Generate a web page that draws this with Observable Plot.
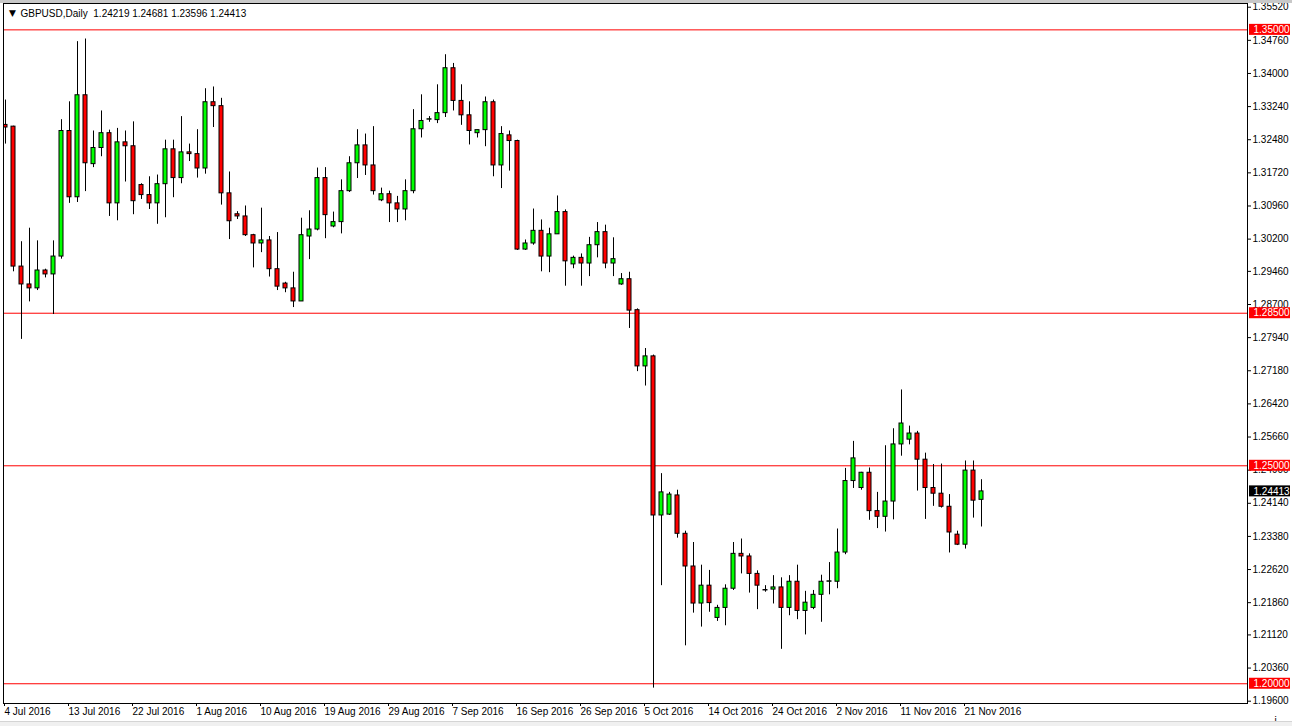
<!DOCTYPE html>
<html><head><meta charset="utf-8">
<script src="https://cdn.jsdelivr.net/npm/d3@7"></script>
<script src="https://cdn.jsdelivr.net/npm/@observablehq/plot@0.6"></script>
<style>
html,body{margin:0;padding:0;background:#fff;}
#wrap{position:relative;width:1292px;height:726px;overflow:hidden;}
#topband{position:absolute;left:0;top:0;width:1292px;height:3px;background:#c8c8c8;}
#botband{position:absolute;left:0;top:721px;width:1292px;height:5px;background:#f0f0f0;border-top:1px solid #d4d4d4;}
</style></head><body><div id="wrap"><div id="topband"></div><div id="botband"></div></div>
<script>
const symbol = "GBPUSD,Daily";

const open = [
1.3282, 1.3278, 1.2957, 1.2916, 1.2907, 1.2948, 1.2939, 1.2980, 1.3268, 1.3116,
1.3350, 1.3192, 1.3229, 1.3263, 1.3102, 1.3242, 1.3233, 1.3144, 1.3121, 1.3102,
1.3146, 1.3226, 1.3160, 1.3219, 1.3215, 1.3182, 1.3334, 1.3325, 1.3125, 1.3077,
1.3072, 1.3029, 1.3010, 1.3017, 1.2951, 1.2918, 1.2907, 1.2877, 1.3026, 1.3042,
1.3160, 1.3049, 1.3059, 1.3130, 1.3194, 1.3235, 1.3189, 1.3109, 1.3123, 1.3102,
1.3088, 1.3130, 1.3272, 1.3294, 1.3293, 1.3309, 1.3412, 1.3337, 1.3304, 1.3263,
1.3270, 1.3334, 1.3189, 1.3258, 1.3245, 1.2996, 1.3010, 1.3039, 1.2980, 1.3031,
1.3082, 1.2962, 1.2977, 1.2964, 1.3006, 1.3036, 1.2964, 1.2916, 1.2928, 1.2857,
1.2728, 1.2751, 1.2386, 1.2388, 1.2432, 1.2344, 1.2269, 1.2184, 1.2225, 1.2151,
1.2174, 1.2218, 1.2298, 1.2292, 1.2252, 1.2215, 1.2216, 1.2221, 1.2174, 1.2234,
1.2167, 1.2174, 1.2204, 1.2234, 1.2234, 1.2301, 1.2465, 1.2449, 1.2484, 1.2396,
1.2383, 1.2418, 1.2549, 1.2560, 1.2574, 1.2514, 1.2449, 1.2436, 1.2406, 1.2342,
1.2319, 1.2489, 1.24219];

const high = [
1.3339, 1.3279, 1.3014, 1.3045, 1.3016, 1.2951, 1.3016, 1.3294, 1.3335, 1.3473,
1.3479, 1.3268, 1.3314, 1.3270, 1.3274, 1.3268, 1.3289, 1.3147, 1.3163, 1.3167,
1.3247, 1.3247, 1.3301, 1.3238, 1.3271, 1.3365, 1.3369, 1.3343, 1.3174, 1.3083,
1.3096, 1.3031, 1.3091, 1.3026, 1.3035, 1.2921, 1.2944, 1.3068, 1.3085, 1.3183,
1.3184, 1.3082, 1.3156, 1.3209, 1.3271, 1.3261, 1.3278, 1.3137, 1.3130, 1.3118,
1.3156, 1.3317, 1.3351, 1.3301, 1.3374, 1.3443, 1.3423, 1.3374, 1.3335, 1.3270,
1.3346, 1.3339, 1.3278, 1.3268, 1.3247, 1.3018, 1.3089, 1.3064, 1.3045, 1.3119,
1.3087, 1.2981, 1.2986, 1.3024, 1.3058, 1.3052, 1.3023, 1.2941, 1.2944, 1.2860,
1.2769, 1.2754, 1.2482, 1.2439, 1.2444, 1.2350, 1.2324, 1.2272, 1.2260, 1.2180,
1.2227, 1.2324, 1.2332, 1.2298, 1.2259, 1.2225, 1.2248, 1.2243, 1.2248, 1.2272,
1.2212, 1.2214, 1.2249, 1.2278, 1.2355, 1.2494, 1.2556, 1.2485, 1.2495, 1.2439,
1.2546, 1.2585, 1.2674, 1.2591, 1.2579, 1.2529, 1.2503, 1.2504, 1.2434, 1.2350,
1.2511, 1.2511, 1.24681];

const low = [
1.3238, 1.2945, 1.2790, 1.2876, 1.2902, 1.2931, 1.2847, 1.2974, 1.3102, 1.3104,
1.3129, 1.3184, 1.3209, 1.3072, 1.3062, 1.3151, 1.3076, 1.3111, 1.3088, 1.3054,
1.3069, 1.3115, 1.3147, 1.3198, 1.3160, 1.3169, 1.3276, 1.3098, 1.3019, 1.3065,
1.3026, 1.2954, 1.2989, 1.2933, 1.2902, 1.2897, 1.2863, 1.2877, 1.2973, 1.3039,
1.3021, 1.3046, 1.3032, 1.3127, 1.3159, 1.3166, 1.3121, 1.3106, 1.3058, 1.3058,
1.3062, 1.3124, 1.3252, 1.3288, 1.3285, 1.3299, 1.3314, 1.3281, 1.3236, 1.3252,
1.3232, 1.3163, 1.3136, 1.3176, 1.2994, 1.2994, 1.3006, 1.2945, 1.2943, 1.3031,
1.2912, 1.2952, 1.2912, 1.2934, 1.2977, 1.2952, 1.2934, 1.2914, 1.2815, 1.2716,
1.2683, 1.1990, 1.2225, 1.2386, 1.2334, 1.2087, 1.2162, 1.2130, 1.2164, 1.2143,
1.2133, 1.2214, 1.2252, 1.2208, 1.2170, 1.2210, 1.2183, 1.2079, 1.2156, 1.2147,
1.2112, 1.2170, 1.2141, 1.2204, 1.2218, 1.2296, 1.2448, 1.2444, 1.2375, 1.2356,
1.2348, 1.2376, 1.2522, 1.2548, 1.2442, 1.2377, 1.2407, 1.2403, 1.2300, 1.2317,
1.2309, 1.2380, 1.23596];

const close = [
1.3276, 1.2957, 1.2916, 1.2907, 1.2948, 1.2939, 1.2980, 1.3268, 1.3116, 1.3350,
1.3194, 1.3229, 1.3263, 1.3102, 1.3242, 1.3233, 1.3107, 1.3121, 1.3102, 1.3146,
1.3226, 1.3160, 1.3219, 1.3215, 1.3182, 1.3334, 1.3325, 1.3125, 1.3061, 1.3072,
1.3029, 1.3010, 1.3017, 1.2951, 1.2911, 1.2907, 1.2877, 1.3029, 1.3042, 1.3160,
1.3075, 1.3059, 1.3130, 1.3194, 1.3235, 1.3189, 1.3130, 1.3123, 1.3102, 1.3088,
1.3130, 1.3272, 1.3291, 1.3295, 1.3309, 1.3412, 1.3337, 1.3304, 1.3268, 1.3270,
1.3334, 1.3189, 1.3261, 1.3245, 1.2996, 1.3010, 1.3039, 1.2980, 1.3031, 1.3082,
1.2969, 1.2977, 1.2964, 1.3006, 1.3036, 1.2964, 1.2974, 1.2928, 1.2856, 1.2728,
1.2751, 1.2386, 1.2439, 1.2434, 1.2344, 1.2269, 1.2184, 1.2225, 1.2185, 1.2174,
1.2218, 1.2298, 1.2292, 1.2252, 1.2225, 1.2214, 1.2221, 1.2174, 1.2234, 1.2167,
1.2186, 1.2204, 1.2234, 1.2235, 1.2301, 1.2465, 1.2517, 1.2484, 1.2396, 1.2383,
1.2418, 1.2549, 1.2597, 1.2574, 1.2514, 1.2449, 1.2436, 1.2406, 1.2347, 1.2319,
1.2489, 1.2420, 1.24413];

const dateLabels = ["4 Jul 2016","13 Jul 2016","22 Jul 2016","1 Aug 2016","10 Aug 2016","19 Aug 2016",
  "29 Aug 2016","7 Sep 2016","16 Sep 2016","26 Sep 2016","5 Oct 2016","14 Oct 2016","24 Oct 2016",
  "2 Nov 2016","11 Nov 2016","21 Nov 2016"];
const dateTickIndex = [0,8,16,24,32,40,48,56,64,72,80,88,96,104,112,120];

const priceTicks = [1.3552,1.3476,1.3400,1.3324,1.3248,1.3172,1.3096,1.3020,1.2946,1.2870,1.2794,
  1.2718,1.2642,1.2566,1.2490,1.2414,1.2338,1.2262,1.2186,1.2112,1.2036,1.1960];

const levels = [1.35, 1.285, 1.25, 1.20];

const bars = open.map((o, i) => ({i, open: o, high: high[i], low: low[i], close: close[i]}));
const last = bars[bars.length - 1];
const xDomain = [-0.25, 155.25];
const yDomain = [1.19547, 1.35605];
const fmt = d3.format(".5f");
const half = 0.25;
const header = `${symbol}  ${fmt(last.open)} ${fmt(last.high)} ${fmt(last.low)} ${fmt(last.close)}`;

const chart = Plot.plot({
  width: 1292, height: 726,
  marginLeft: 3, marginRight: 45, marginTop: 3, marginBottom: 23,
  style: {fontFamily: "'Liberation Sans', Arial, sans-serif", fontSize: "10px", background: "transparent", color: "black", overflow: "visible"},
  x: {type: "linear", domain: xDomain, axis: null},
  y: {type: "linear", domain: yDomain, axis: null},
  marks: [
    Plot.ruleY(levels, {y: d => d, stroke: "#ff0000"}),
    Plot.ruleX(bars, {x: "i", y1: "low", y2: "high", stroke: "black", clip: true}),
    Plot.rect(bars, {x1: d => d.i - half, x2: d => d.i + half, y1: "open", y2: "close",
      fill: d => d.close >= d.open ? "#00ff00" : "#ff0000", stroke: "black", clip: true}),
    Plot.frame({stroke: "black"}),
    Plot.axisY({anchor: "right", ticks: priceTicks, tickFormat: fmt, tickSize: 3, tickPadding: 2, fontSize: 10}),
    Plot.axisX({anchor: "bottom", ticks: dateTickIndex, tickFormat: d => dateLabels[dateTickIndex.indexOf(d)],
      tickSize: 3, tickPadding: 1, textAnchor: "start", dx: -1, fontSize: 10}),
    Plot.rect(levels, {x1: xDomain[1], x2: xDomain[1], y1: d => d, y2: d => d,
      insetLeft: 2, insetRight: -43, insetTop: -5.5, insetBottom: -5.5, fill: "#ff0000"}),
    Plot.text(levels, {x: xDomain[1], y: d => d, text: d => fmt(d), dx: 6, textAnchor: "start", fill: "white", fontSize: 10}),
    Plot.rect([last], {x1: xDomain[1], x2: xDomain[1], y1: "close", y2: "close",
      insetLeft: 2, insetRight: -43, insetTop: -5.5, insetBottom: -5.5, fill: "black"}),
    Plot.text([last], {x: xDomain[1], y: "close", text: d => fmt(d.close), dx: 6, textAnchor: "start", fill: "white", fontSize: 10}),
    Plot.text([header], {frameAnchor: "top-left", dx: 17, dy: 10, lineAnchor: "middle", textAnchor: "start", fill: "black", fontSize: 10}),
    Plot.text(["▼"], {frameAnchor: "top-left", dx: 9, dy: 10, lineAnchor: "middle", textAnchor: "middle", fill: "black", fontSize: 9, fontFamily: "DejaVu Sans"})
  ]
});
document.getElementById("wrap").prepend(chart);
</script>
</body></html>
